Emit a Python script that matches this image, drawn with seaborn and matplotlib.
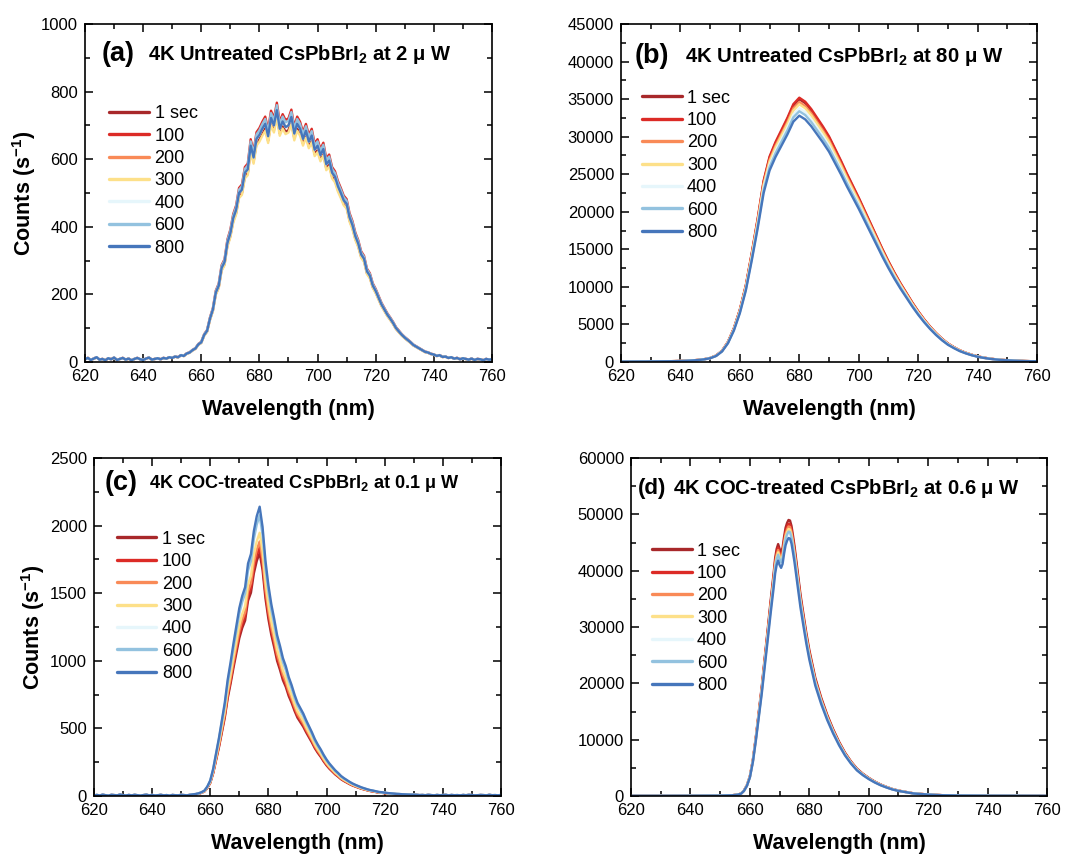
import numpy as np
import pandas as pd
import seaborn as sns
import matplotlib.pyplot as plt
from matplotlib.ticker import MultipleLocator

# exposure series (legend) and colours
series = ["1 sec", "100", "200", "300", "400", "600", "800"]
colors = ["#a8282a", "#dc2b26", "#f98a57", "#fde089", "#e6f6fb", "#93c2df", "#4676bb"]

# (a) untreated, 2 uW  -- 1 nm grid
wl_a = list(range(620, 761))
counts_a = [8, 12, 6, 10, 14, 7, 9, 5, 11, 8,
            13, 6, 9, 12, 7, 10, 5, 9, 12, 8,
            6, 10, 13, 7, 9, 11, 8, 12, 10, 14,
            12, 16, 14, 20, 18, 25, 28, 35, 40, 52,
            58, 80, 92, 128, 155, 205, 225, 278, 295, 352,
            380, 425, 450, 500, 510, 560, 570, 640, 605, 660,
            672, 690, 705, 668, 722, 700, 745, 690, 712, 695,
            700, 725, 676, 705, 690, 660, 684, 652, 670, 628,
            640, 612, 630, 585, 596, 560, 548, 520, 500, 478,
            468, 428, 405, 372, 350, 318, 305, 268, 255, 226,
            210, 190, 170, 155, 140, 128, 115, 100, 90, 80,
            72, 65, 58, 50, 45, 40, 35, 30, 28, 24,
            22, 18, 20, 15, 16, 12, 14, 10, 12, 8,
            11, 9, 7, 10, 6, 9, 8, 5, 9, 7,
            8]
scale_a = [0.98, 1.03, 1.0, 0.97, 1.0, 1.02, 1.0]

# (b) untreated, 80 uW -- 2 nm grid
wl_b = list(range(620, 761, 2))
counts_b = [50, 50, 55, 60, 60, 70, 75, 85, 95, 110,
            130, 160, 200, 260, 350, 500, 800, 1400, 2500, 4200,
            6500, 9500, 13500, 17800, 22500, 25500, 27300, 28800, 30300, 32000,
            32800, 32300, 31400, 30300, 29200, 28000, 26500, 25000, 23400, 21900,
            20400, 18800, 17200, 15600, 14000, 12500, 11100, 9800, 8600, 7400,
            6300, 5300, 4400, 3600, 2900, 2300, 1850, 1450, 1150, 900,
            700, 550, 430, 340, 270, 220, 180, 150, 120, 100,
            90]
scale_b = [1.067, 1.073, 1.055, 1.046, 1.03, 1.018, 1.0]

# (c) COC-treated, 0.1 uW -- 1 nm grid
wl_c = list(range(620, 761))
counts_c = [5, 8, 4, 10, 6, 3, 9, 7, 5, 11,
            6, 4, 8, 5, 9, 6, 3, 7, 10, 5,
            8, 4, 6, 9, 5, 7, 3, 8, 6, 5,
            9, 7, 5, 9, 12, 15, 20, 28, 40, 70,
            115, 200, 315, 430, 560, 690, 860, 990, 1130, 1260,
            1390, 1480, 1545, 1720, 1790, 1960, 2070, 2140, 1990, 1740,
            1560, 1420, 1310, 1190, 1110, 1020, 960, 880, 820, 750,
            690, 650, 610, 560, 515, 470, 420, 380, 345, 305,
            270, 240, 215, 190, 170, 148, 132, 118, 104, 92,
            82, 73, 64, 57, 50, 44, 40, 35, 30, 28,
            25, 22, 20, 18, 16, 15, 13, 12, 11, 10,
            10, 9, 7, 8, 6, 9, 7, 5, 8, 6,
            7, 9, 5, 8, 6, 7, 5, 8, 6, 9,
            7, 5, 6, 8, 7, 5, 9, 6, 7, 5,
            8]
scale_c = [0.84, 0.86, 0.88, 0.91, 0.99, 0.97, 1.0]

# (d) COC-treated, 0.6 uW -- finer around the double peak
wl_d = [620, 630, 640, 650, 654, 656, 657, 658, 659, 660,
        661, 662, 663, 664, 665, 666, 667, 668, 668.5, 669,
        669.5, 670, 670.5, 671, 671.5, 672, 672.5, 673, 673.5, 674,
        674.5, 675, 676, 677, 678, 679, 680, 682, 684, 686,
        688, 690, 692, 694, 696, 698, 700, 702, 704, 706,
        708, 710, 715, 720, 725, 730, 740, 750, 760]
counts_d = [30, 30, 40, 60, 120, 250, 400, 900, 1800, 3300,
            6000, 9800, 14000, 18200, 23000, 27700, 32500, 37000, 39500, 41000,
            41800, 41000, 40500, 41200, 43000, 44500, 45300, 45800, 45700, 44800,
            43200, 41500, 37500, 33500, 30200, 27000, 24200, 19600, 16300, 13500,
            11100, 9000, 7200, 5750, 4550, 3700, 3000, 2400, 1900, 1500,
            1150, 900, 450, 250, 130, 80, 50, 40, 30]
scale_d = [1.07, 1.055, 1.045, 1.035, 1.02, 1.025, 1.0]

sns.set_theme(style="ticks")
plt.rcParams['font.family'] = ['Liberation Sans', 'DejaVu Sans']
plt.rcParams.update({
    'mathtext.fontset': 'custom',
    'mathtext.rm': 'Liberation Sans',
    'mathtext.bf': 'Liberation Sans:bold',
    'mathtext.it': 'Liberation Sans:italic',
    'axes.linewidth': 1.2,
    'axes.edgecolor': 'black',
    'text.color': 'black',
    'axes.labelcolor': 'black',
    'xtick.color': 'black',
    'ytick.color': 'black',
})

palette = dict(zip(series, colors))


def draw_panel(ax, wl, counts, scales, ymax, ymajor, tag, title, tsize, tag_xy, title_x, leg_xy, ylabel):
	frames = []
	for name, s in zip(series, scales):
		frames.append(pd.DataFrame({"wl": wl, "counts": np.array(counts, dtype=float) * s, "series": name}))
	df = pd.concat(frames, ignore_index=True)
	sns.lineplot(data=df, x="wl", y="counts", hue="series", hue_order=series, palette=palette,
				 estimator=None, sort=False, linewidth=1.7, ax=ax)

	ax.set_xlim(620, 760)
	ax.set_ylim(0, ymax)
	ax.xaxis.set_major_locator(MultipleLocator(20))
	ax.xaxis.set_minor_locator(MultipleLocator(10))
	ax.yaxis.set_major_locator(MultipleLocator(ymajor))
	ax.yaxis.set_minor_locator(MultipleLocator(ymajor / 2))
	ax.tick_params(which='both', direction='in', top=True, right=True, labelsize=12, pad=5, width=1.1)
	ax.tick_params(which='major', length=6)
	ax.tick_params(which='minor', length=3.5)

	ax.set_xlabel("Wavelength (nm)", fontsize=15.5, fontweight='bold', labelpad=11)
	if ylabel:
		ax.set_ylabel(r"Counts (s$^{\mathbf{-1}}$)", fontsize=15.5, fontweight='bold', labelpad=2)
	else:
		ax.set_ylabel("")

	ax.text(tag_xy[0], tag_xy[1], tag, transform=ax.transAxes, fontsize=19.5,
			fontweight='bold', va='center', ha='left')
	ax.text(title_x, tag_xy[1], title, transform=ax.transAxes, fontsize=tsize,
			fontweight='bold', va='center', ha='left')

	handles, labels = ax.get_legend_handles_labels()
	leg = ax.legend(handles, labels, loc='upper left', bbox_to_anchor=leg_xy, frameon=False,
					fontsize=13, handlelength=2.2, handletextpad=0.3, labelspacing=0.3,
					borderpad=0, borderaxespad=0)
	for line in leg.get_lines():
		line.set_linewidth(2.4)


fig = plt.figure(figsize=(10.69, 8.55), dpi=100)
ax_a = fig.add_axes([0.0795, 0.5766, 0.3807, 0.3953])
ax_b = fig.add_axes([0.5809, 0.5766, 0.3892, 0.3953])
ax_c = fig.add_axes([0.0879, 0.0690, 0.3807, 0.3953])
ax_d = fig.add_axes([0.5903, 0.0690, 0.3892, 0.3953])

draw_panel(ax_a, wl_a, counts_a, scale_a, 1000, 200, "(a)",
		   r"4K Untreated CsPbBrI$_\mathbf{2}$ at 2 μ W", 14.5, (0.04, 0.91), 0.155, (0.06, 0.76), True)
draw_panel(ax_b, wl_b, counts_b, scale_b, 45000, 5000, "(b)",
		   r"4K Untreated CsPbBrI$_\mathbf{2}$ at 80 μ W", 14.7, (0.032, 0.905), 0.154, (0.05, 0.806), False)
draw_panel(ax_c, wl_c, counts_c, scale_c, 2500, 500, "(c)",
		   r"4K COC-treated CsPbBrI$_\mathbf{2}$ at 0.1 μ W", 13.1, (0.025, 0.925), 0.135, (0.056, 0.785), True)
draw_panel(ax_d, wl_d, counts_d, scale_d, 60000, 10000, "(d)",
		   r"4K COC-treated CsPbBrI$_\mathbf{2}$ at 0.6 μ W", 14.6, (0.017, 0.91), 0.101, (0.05, 0.75), False)
# (d) tag is the same size as its title
ax_d.texts[0].set_fontsize(16)

fig.savefig("out.png", dpi=100)
